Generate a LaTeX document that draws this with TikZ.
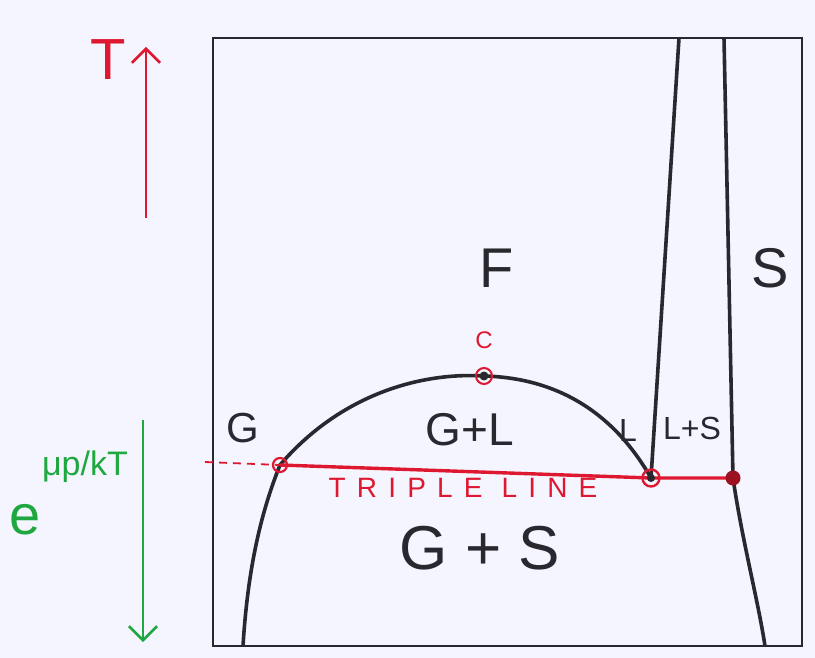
\documentclass[tikz,border=0pt]{standalone}
\usepackage{fontspec}
\setsansfont{Liberation Sans}
\usetikzlibrary{positioning,arrows.meta}
\definecolor{inkred}{RGB}{222,24,48}
\definecolor{inkgreen}{RGB}{32,168,64}
\definecolor{inkgray}{RGB}{40,40,46}
\tikzset{
  phase/.style={font=\sffamily\fontsize{#1}{#1}\selectfont, text=inkgray, inner sep=0pt},
  boundary/.style={line width=3.6pt, inkgray},
  axisarrow/.style={line width=2.6pt, -{Straight Barb[length=14pt,width=28pt,line width=2.6pt]}},
}
\begin{document}
\begin{tikzpicture}[x=1pt,y=-1pt]
\useasboundingbox (0,0) rectangle (815,658);
\fill[white!96!blue] (0,0) rectangle (815,658);
% Rahmen
\draw[line width=2.8pt, inkgray] (213,38) rectangle (802,646);
% Punkte am Tripelpunkt und kritischen Punkt
\coordinate (gpt) at (280,465);
\coordinate (crit) at (484,376);
\coordinate (lpt) at (651,478);
\coordinate (spt) at (733,478);
\coordinate (dashend) at (205,462);
% Phasengrenzen
\draw[boundary] (243,646) .. controls (248,565) and (262,510) .. (gpt)
  .. controls (340,395) and (420,372) .. (crit)
  .. controls (560,378) and (615,415) .. (lpt);
\draw[boundary] (lpt) -- (679,38);
\draw[boundary] (724,38) -- (spt) .. controls (742,540) and (758,600) .. (765,646);
% Tripellinie
\draw[inkred, line width=1.8pt, dash pattern=on 8pt off 6pt] (dashend) -- (gpt);
\draw[inkred, line width=3.4pt] (gpt) -- (lpt) -- (spt);
\draw[inkred, line width=2.2pt] (gpt) circle (7pt);
\fill[inkgray] (lpt) circle (4pt);
\draw[inkred, line width=2.4pt] (lpt) circle (8.5pt);
\fill[inkred!70!black] (spt) circle (7.5pt);
\fill[inkgray] (crit) circle (4.5pt);
\draw[inkred, line width=2pt] (crit) circle (8pt);
% Beschriftungen
\node[phase=56] (fluid) at (497,268) {F};
\node[phase=56] (solid) at (770,268) {S};
\node[phase=42] (gas) at (243,428) {G};
\node[phase=46] (gasliq) at (470,430) {G+L};
\node[phase=32] (liq) at (628,430) {L};
\node[phase=32] (liqsol) at (692,428) {L+S};
\node[phase=62] (gassol) at (480,548) {G + S};
\node[phase=24, text=inkred] (critlab) at (484,340) {C};
\node[phase=28, text=inkred] (triple) at (463,488) {\addfontfeature{LetterSpace=40}TRIPLE LINE};
% Achsen links
\node[phase=58, text=inkred] (tlab) at (108,60) {T};
\coordinate (tbot) at (146,218);
\coordinate (ttop) at (146,47);
\draw[axisarrow, inkred] (tbot) -- (ttop);
\coordinate (mutop) at (143,420);
\coordinate (mubot) at (143,642);
\draw[axisarrow, inkgreen] (mutop) -- (mubot);
\node[phase=56, text=inkgreen] (elab) at (25,520) {e};
\node[phase=34, text=inkgreen] (mulab) at (85,467) {μp/kT};
\end{tikzpicture}
\end{document}
